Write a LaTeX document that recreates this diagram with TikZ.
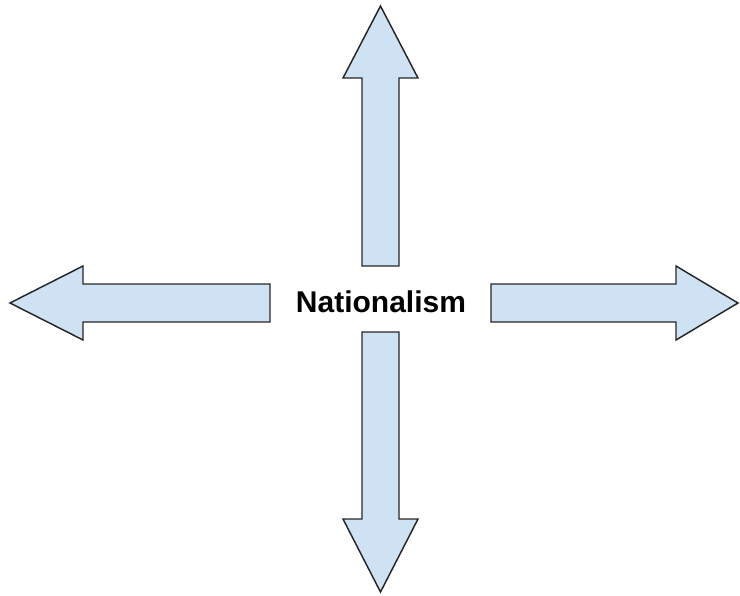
\documentclass[tikz,border=0pt]{standalone}
\usepackage{fontspec}
\setmainfont{Liberation Sans}
\begin{document}
\begin{tikzpicture}[x=0.75pt,y=-0.75pt,
  arrowshape/.style={draw=black!85, line width=1.1pt, fill=arrowblue, line join=miter},
  label/.style={font=\fontsize{22.5}{27}\selectfont\bfseries, inner sep=0pt}]
\definecolor{arrowblue}{HTML}{CFE2F3}
\useasboundingbox (0,0) rectangle (740,596);
% up arrow
\draw[arrowshape] (362,266) -- (362,78) -- (343,78) -- (380.5,6) -- (418,78) -- (399,78) -- (399,266) -- cycle;
% down arrow
\draw[arrowshape] (362,332) -- (362,519) -- (343,519) -- (380.5,592) -- (418,519) -- (399,519) -- (399,332) -- cycle;
% left arrow
\draw[arrowshape] (270,284) -- (83,284) -- (83,266) -- (10,303) -- (83,340) -- (83,322) -- (270,322) -- cycle;
% right arrow
\draw[arrowshape] (491,284) -- (676,284) -- (676,266) -- (738,303) -- (676,340) -- (676,322) -- (491,322) -- cycle;
\node[label] (center) at (381,302) {Nationalism};
\end{tikzpicture}
\end{document}
